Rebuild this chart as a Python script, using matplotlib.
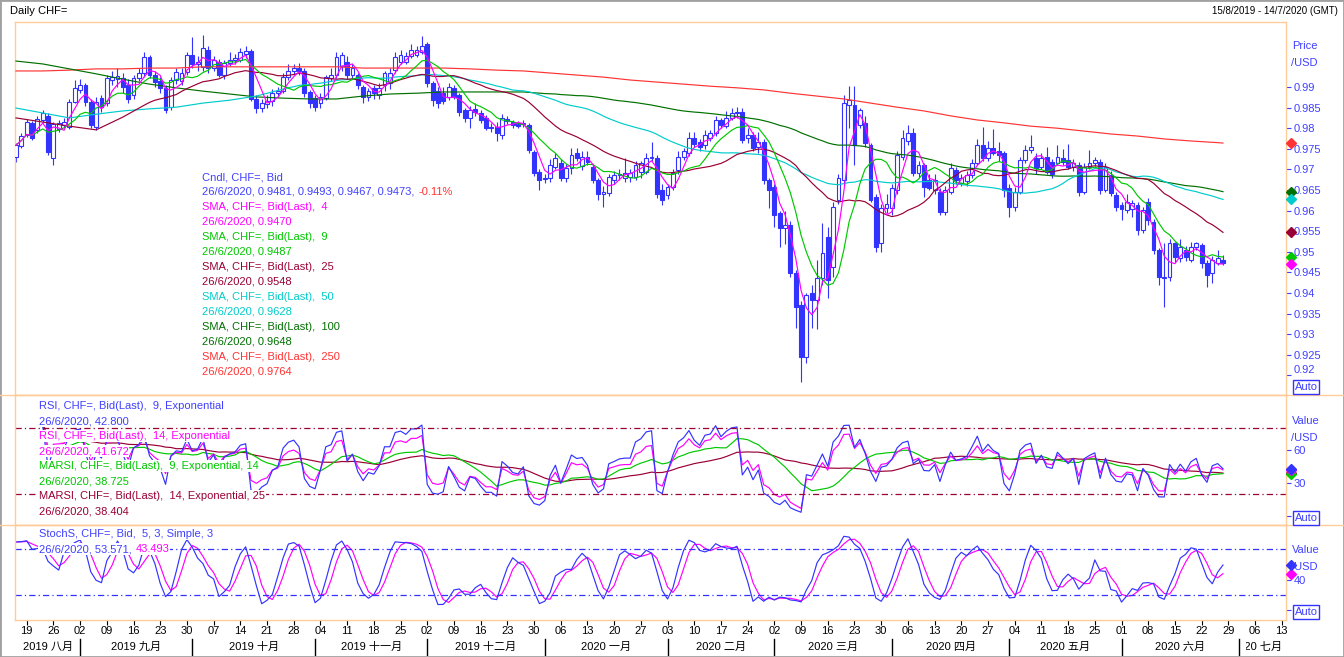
import numpy as np
import pandas as pd
import matplotlib
matplotlib.use("Agg")
import matplotlib.pyplot as plt
from matplotlib.lines import Line2D
from matplotlib.patches import Rectangle
from matplotlib.transforms import Bbox, TransformedBbox, blended_transform_factory

plt.rcParams['font.family'] = ['Liberation Sans', 'Noto Sans CJK SC', 'DejaVu Sans']
plt.rcParams['font.size'] = 8

# CHF= daily bid bars 15/8/2019 - 26/6/2020, in 1/10000, one row per week
opens = [
    9730, 9757,
    9784, 9813, 9796, 9820, 9830,
    9728, 9798, 9808, 9803, 9864,
    9893, 9905, 9864, 9803, 9873,
    9860, 9917, 9920, 9922, 9905,
    9880, 9922, 9934, 9973, 9930,
    9915, 9898, 9851, 9917, 9915,
    9936, 9978, 9955, 9948, 9990,
    9946, 9960, 9930, 9958, 9966,
    9965, 9980, 9988, 9870, 9850,
    9858, 9865, 9885, 9890, 9925,
    9938, 9945, 9938, 9888, 9873,
    9862, 9873, 9922, 9929, 9950,
    9961, 9929, 9929, 9900, 9876,
    9898, 9880, 9905, 9910, 9941,
    9961, 9961, 9975, 9978, 9985,
    10005, 9910, 9890, 9885, 9876,
    9898, 9881, 9844, 9825, 9846,
    9837, 9825, 9803, 9803, 9784,
    9822, 9815, 9813, 9810, 9808,
    9742, 9694, 9676, 9679, 9706,
    9716, 9679, 9703, 9740, 9708,
    9730, 9706, 9674, 9640, 9643,
    9674, 9686, 9679, 9682, 9682,
    9694, 9694, 9728, 9728, 9650,
    9638, 9657, 9699, 9730, 9740,
    9776, 9767, 9759, 9776, 9788,
    9820, 9805, 9825, 9837, 9839,
    9776, 9784, 9755, 9767, 9674,
    9657, 9594, 9558, 9565, 9449,
    9371, 9245, 9400, 9383, 9436,
    9536, 9463, 9626, 9674, 9856,
    9856, 9808, 9813, 9759, 9633,
    9521, 9606, 9606, 9650, 9730,
    9770, 9788, 9691, 9711, 9675,
    9650, 9645, 9597, 9645, 9699,
    9667, 9672, 9686, 9716, 9759,
    9728, 9752, 9745, 9740, 9655,
    9609, 9645, 9723, 9747, 9728,
    9706, 9730, 9718, 9716, 9728,
    9723, 9706, 9711, 9645, 9706,
    9716, 9718, 9650, 9686, 9638,
    9613, 9601, 9604, 9613, 9553,
    9621, 9572, 9504, 9436, 9439,
    9521, 9485, 9505, 9480, 9512,
    9517, 9473, 9449, 9473, 9481,
]
highs = [
    9764, 9788,
    9822, 9817, 9830, 9844, 9837,
    9815, 9820, 9825, 9870, 9917,
    9920, 9910, 9870, 9875, 9880,
    9930, 9940, 9945, 9935, 9920,
    9930, 9945, 9985, 9978, 9940,
    9925, 9905, 9925, 9945, 9945,
    9985, 10022, 9975, 10027, 10000,
    9975, 9968, 9965, 9985, 9980,
    9995, 10000, 9992, 9880, 9870,
    9880, 9895, 9900, 9935, 9955,
    9955, 9958, 9945, 9892, 9880,
    9885, 9930, 9945, 9985, 9985,
    9975, 9955, 9935, 9905, 9898,
    9905, 9910, 9940, 9945, 9985,
    9990, 9985, 10005, 10000, 10024,
    10010, 9915, 9900, 9900, 9910,
    9905, 9885, 9850, 9855, 9860,
    9845, 9832, 9812, 9815, 9835,
    9830, 9820, 9818, 9820, 9812,
    9748, 9700, 9690, 9725, 9740,
    9725, 9712, 9752, 9752, 9745,
    9745, 9712, 9680, 9660, 9690,
    9695, 9700, 9728, 9700, 9720,
    9720, 9740, 9767, 9735, 9665,
    9665, 9700, 9745, 9752, 9791,
    9790, 9775, 9795, 9796, 9830,
    9825, 9842, 9848, 9852, 9850,
    9800, 9790, 9790, 9775, 9680,
    9665, 9600, 9600, 9575, 9455,
    9380, 9400, 9420, 9480, 9570,
    9560, 9620, 9690, 9880, 9902,
    9902, 9850, 9830, 9765, 9640,
    9615, 9640, 9665, 9745, 9796,
    9808, 9800, 9720, 9715, 9690,
    9690, 9655, 9660, 9716, 9705,
    9690, 9695, 9725, 9775, 9803,
    9770, 9797, 9766, 9745, 9665,
    9657, 9730, 9760, 9784, 9740,
    9740, 9755, 9725, 9760, 9750,
    9762, 9725, 9718, 9715, 9747,
    9730, 9725, 9715, 9695, 9645,
    9620, 9640, 9625, 9620, 9610,
    9630, 9580, 9510, 9521, 9530,
    9525, 9530, 9515, 9525, 9525,
    9521, 9480, 9490, 9504, 9493,
]
lows = [
    9718, 9752,
    9779, 9771, 9788, 9813, 9735,
    9711, 9790, 9800, 9798, 9860,
    9885, 9855, 9800, 9795, 9840,
    9855, 9905, 9900, 9885, 9860,
    9870, 9915, 9925, 9922, 9900,
    9885, 9838, 9845, 9908, 9905,
    9930, 9945, 9940, 9940, 9935,
    9940, 9925, 9920, 9950, 9955,
    9960, 9970, 9865, 9837, 9840,
    9850, 9855, 9875, 9885, 9918,
    9930, 9930, 9875, 9850, 9842,
    9850, 9868, 9915, 9922, 9940,
    9920, 9920, 9895, 9862, 9865,
    9870, 9870, 9890, 9895, 9935,
    9955, 9955, 9970, 9972, 9980,
    9900, 9855, 9850, 9858, 9868,
    9870, 9830, 9815, 9800, 9830,
    9812, 9795, 9790, 9770, 9775,
    9810, 9800, 9800, 9802, 9740,
    9685, 9650, 9668, 9670, 9700,
    9672, 9670, 9690, 9720, 9698,
    9710, 9668, 9626, 9609, 9635,
    9665, 9675, 9670, 9670, 9675,
    9680, 9688, 9720, 9630, 9613,
    9628, 9650, 9690, 9722, 9732,
    9755, 9745, 9750, 9770, 9780,
    9800, 9800, 9820, 9825, 9765,
    9765, 9745, 9740, 9665, 9606,
    9560, 9512, 9520, 9440, 9315,
    9184, 9230, 9315, 9312, 9420,
    9388, 9440, 9615, 9660, 9800,
    9711, 9800, 9755, 9620, 9500,
    9500, 9595, 9590, 9640, 9722,
    9760, 9685, 9680, 9633, 9650,
    9640, 9590, 9590, 9640, 9665,
    9660, 9660, 9680, 9710, 9720,
    9720, 9735, 9720, 9633, 9584,
    9600, 9640, 9715, 9740, 9690,
    9700, 9688, 9680, 9710, 9710,
    9700, 9695, 9636, 9640, 9700,
    9708, 9640, 9645, 9635, 9600,
    9577, 9595, 9585, 9541, 9545,
    9565, 9495, 9420, 9366, 9430,
    9475, 9475, 9478, 9475, 9505,
    9460, 9415, 9425, 9468, 9467,
]
closes = [
    9759, 9781,
    9815, 9776, 9822, 9837, 9742,
    9810, 9813, 9815, 9864, 9898,
    9905, 9864, 9808, 9864, 9851,
    9922, 9924, 9927, 9900, 9870,
    9922, 9934, 9973, 9930, 9912,
    9898, 9844, 9917, 9936, 9934,
    9978, 9955, 9960, 9995, 9946,
    9965, 9930, 9958, 9966, 9970,
    9985, 9988, 9870, 9850, 9860,
    9865, 9885, 9890, 9925, 9940,
    9945, 9938, 9885, 9860, 9852,
    9876, 9924, 9930, 9972, 9978,
    9929, 9945, 9905, 9876, 9890,
    9886, 9898, 9934, 9934, 9973,
    9978, 9975, 9990, 9990, 10000,
    9910, 9868, 9862, 9865, 9900,
    9876, 9840, 9825, 9844, 9840,
    9820, 9800, 9800, 9788, 9825,
    9818, 9808, 9806, 9812, 9747,
    9691, 9674, 9679, 9711, 9728,
    9679, 9703, 9735, 9728, 9730,
    9718, 9674, 9640, 9645, 9682,
    9686, 9690, 9691, 9691, 9711,
    9716, 9728, 9730, 9640, 9626,
    9657, 9691, 9730, 9745, 9776,
    9762, 9755, 9784, 9788, 9820,
    9808, 9825, 9837, 9840, 9771,
    9784, 9752, 9767, 9674, 9650,
    9589, 9558, 9565, 9449, 9366,
    9245, 9395, 9383, 9436, 9497,
    9432, 9609, 9679, 9861, 9868,
    9759, 9844, 9764, 9626, 9512,
    9606, 9615, 9655, 9735, 9776,
    9788, 9691, 9711, 9657, 9655,
    9674, 9597, 9650, 9703, 9674,
    9679, 9686, 9716, 9759, 9728,
    9752, 9740, 9735, 9650, 9609,
    9645, 9723, 9747, 9755, 9703,
    9728, 9694, 9690, 9730, 9718,
    9706, 9716, 9645, 9706, 9716,
    9723, 9650, 9706, 9643, 9609,
    9604, 9621, 9618, 9553, 9601,
    9577, 9504, 9439, 9438, 9521,
    9487, 9512, 9487, 9512, 9521,
    9473, 9444, 9480, 9485, 9473,
]

# moving averages before enough bars exist, read every 5th bar off the chart
head_step = 5
sma25_head = [9825, 9815, 9805, 9796, 9827]
sma50_head = [9849, 9837, 9825, 9834, 9842, 9847, 9851, 9861, 9868, 9878]
sma100_head = [9963, 9956, 9944, 9932, 9919, 9907, 9898, 9890, 9883, 9876,
               9873, 9871, 9871, 9878, 9883, 9885, 9888, 9888, 9888, 9888]
# 250-day average, every 5th bar plus the last one
sma250_pts = [9939, 9939, 9941, 9944, 9944, 9946, 9946, 9949, 9949, 9949,
              9949, 9949, 9949, 9946, 9946, 9946, 9946, 9944, 9941, 9939,
              9934, 9929, 9924, 9917, 9912, 9907, 9902, 9898, 9893, 9885,
              9878, 9871, 9861, 9851, 9842, 9830, 9820, 9813, 9805, 9800,
              9793, 9786, 9781, 9774, 9769, 9765, 9764]

cn_months = ['一月', '二月', '三月', '四月', '五月', '六月',
             '七月', '八月', '九月', '十月', '十一月', '十二月']

price_legend = [
    ('Cndl, CHF=, Bid', 'blue'),
    ('26/6/2020, 0.9481, 0.9493, 0.9467, 0.9473,', 'blue'),
    ('SMA, CHF=, Bid(Last),  4', 'mag'),
    ('26/6/2020, 0.9470', 'mag'),
    ('SMA, CHF=, Bid(Last),  9', 'green'),
    ('26/6/2020, 0.9487', 'green'),
    ('SMA, CHF=, Bid(Last),  25', 'dred'),
    ('26/6/2020, 0.9548', 'dred'),
    ('SMA, CHF=, Bid(Last),  50', 'cyan'),
    ('26/6/2020, 0.9628', 'cyan'),
    ('SMA, CHF=, Bid(Last),  100', 'dgreen'),
    ('26/6/2020, 0.9648', 'dgreen'),
    ('SMA, CHF=, Bid(Last),  250', 'red'),
    ('26/6/2020, 0.9764', 'red'),
]
rsi_legend = [
    ('RSI, CHF=, Bid(Last),  9, Exponential', 'blue'),
    ('26/6/2020, 42.800', 'blue'),
    ('RSI, CHF=, Bid(Last),  14, Exponential', 'mag'),
    ('26/6/2020, 41.672', 'mag'),
    ('MARSI, CHF=, Bid(Last),  9, Exponential, 14', 'green'),
    ('26/6/2020, 38.725', 'green'),
    ('MARSI, CHF=, Bid(Last),  14, Exponential, 25', 'dred'),
    ('26/6/2020, 38.404', 'dred'),
]
stoch_legend = [
    ('StochS, CHF=, Bid,  5, 3, Simple, 3', 'blue'),
    ('26/6/2020, 53.571,', 'blue'),
]

col = {'blue': '#3333ff', 'mag': '#ff00ff', 'green': '#00c800', 'dred': '#990033',
       'cyan': '#00cccc', 'dgreen': '#007000', 'red': '#ff3333'}
txtblue = '#4040ff'
peach = '#ffcc99'

o = np.array(opens) / 1e4
h = np.array(highs) / 1e4
l = np.array(lows) / 1e4
c = np.array(closes) / 1e4
n = len(c)
idx = np.arange(n)
cs = pd.Series(c)

sma4 = cs.rolling(4, min_periods=1).mean()
sma9 = cs.rolling(9, min_periods=1).mean()


def joined(head, period):
    hx = np.arange(len(head)) * head_step
    full = cs.rolling(period).mean().values
    return np.r_[hx, np.arange(period - 1, n)], np.r_[np.array(head) / 1e4, full[period - 1:]]


x25, y25 = joined(sma25_head, 25)
x50, y50 = joined(sma50_head, 50)
x100, y100 = joined(sma100_head, 100)
x250 = np.r_[np.arange(0, n - 1, head_step), n - 1]
y250 = np.array(sma250_pts) / 1e4

# RSI / MARSI
d = cs.diff()


def rsi(period):
    g = d.clip(lower=0).ewm(span=period, adjust=False).mean()
    q = (-d.clip(upper=0)).ewm(span=period, adjust=False).mean()
    r = 100 - 100 / (1 + g / q)
    r[:5] = np.nan
    return r


rsi9 = rsi(9)
rsi14 = rsi(14)
marsi9 = rsi9.rolling(14, min_periods=1).mean()
marsi14 = rsi14.rolling(25, min_periods=1).mean()

# slow stochastic 5,3,3
hh = pd.Series(h).rolling(5, min_periods=1).max()
ll = pd.Series(l).rolling(5, min_periods=1).min()
fast_k = 100 * (cs - ll) / (hh - ll)
slow_k = fast_k.rolling(3, min_periods=1).mean()
slow_d = slow_k.rolling(3, min_periods=1).mean()

# axis calendar (weekdays up to 14/7/2020)
days = pd.bdate_range('2019-08-15', '2020-07-14')
mondays = np.where(days.dayofweek == 0)[0]
month_starts = np.r_[0, np.where(days.month[1:] != days.month[:-1])[0] + 1]

W, H = 1344, 657
fig = plt.figure(figsize=(W / 100, H / 100), dpi=100)
fig.patch.set_facecolor('white')


def fx(px):
    return px / W


def fy(py):
    return 1 - py / H


xlo, xhi = -0.19, 237.8
ax1 = fig.add_axes([fx(15), fy(395), fx(1271), 373 / H])
ax2 = fig.add_axes([fx(15), fy(525), fx(1271), 130 / H])
ax3 = fig.add_axes([fx(15), fy(620), fx(1271), 95 / H])
for ax in (ax1, ax2, ax3):
    ax.set_xlim(xlo, xhi)
    for s in ax.spines.values():
        s.set_color(peach)
        s.set_linewidth(1)
    ax.yaxis.tick_right()
    ax.tick_params(axis='y', colors=txtblue, length=3.6, width=0.8, pad=2, labelsize=8)
    ax.tick_params(axis='x', bottom=False, labelbottom=False)

# candles
blue = col['blue']
up = c >= o
ax1.vlines(idx, l, h, color=blue, lw=0.8, zorder=2)
ax1.bar(idx, np.maximum(np.abs(c - o), 0.00006), bottom=np.minimum(o, c), width=0.72,
        color=np.where(up, 'white', blue), edgecolor=blue, linewidth=0.8, zorder=3)
ax1.plot(x250, y250, color=col['red'], lw=0.85, zorder=4)
ax1.plot(x100, y100, color=col['dgreen'], lw=0.85, zorder=4)
ax1.plot(x50, y50, color=col['cyan'], lw=0.85, zorder=4)
ax1.plot(x25, y25, color=col['dred'], lw=0.85, zorder=4)
ax1.plot(idx, sma9, color=col['green'], lw=0.85, zorder=4)
ax1.plot(idx, sma4, color=col['mag'], lw=0.85, zorder=4)
ax1.set_ylim(0.91525, 1.00578)
pticks = np.round(np.arange(0.92, 0.9901, 0.005), 3)
ax1.set_yticks(pticks, [f'{v:g}' for v in pticks])
ax1.yaxis.get_major_ticks()[0].label2.set_va('bottom')

# RSI panel
ax2.plot(idx, marsi14, color=col['dred'], lw=0.85)
ax2.plot(idx, marsi9, color=col['green'], lw=0.85)
ax2.plot(idx, rsi14, color=col['mag'], lw=0.85)
ax2.plot(idx, rsi9, color=col['blue'], lw=0.85)
for lev in (80, 20):
    ax2.axhline(lev, color=col['dred'], lw=0.9, ls=(0, (5, 2.5, 1, 2.5)))
ax2.set_ylim(-8.2, 110)
ax2.set_yticks([0, 30, 60], ['', '30', '60'])

# stochastic panel
ax3.plot(idx, slow_d, color=col['mag'], lw=0.85)
ax3.plot(idx, slow_k, color=col['blue'], lw=0.85)
for lev in (80, 20):
    ax3.axhline(lev, color=col['blue'], lw=0.9, ls=(0, (5, 2.5, 1, 2.5)))
ax3.set_ylim(-12.6, 111.3)
ax3.set_yticks([0, 40], ['', '40'])

# date axis
ax3.tick_params(axis='x', bottom=True, labelbottom=True, length=3.6, width=0.8,
                pad=0.5, colors='black', labelsize=8)
ax3.set_xticks(mondays, [days[i].strftime('%d') for i in mondays])
tr = blended_transform_factory(ax3.transData, fig.transFigure)
bounds = list(month_starts) + [None]
for k, ms in enumerate(month_starts):
    a = max(xlo, ms)
    cut = bounds[k + 1] is None
    b = xhi if cut else min(xhi, bounds[k + 1])
    dt = days[ms]
    label = f'{dt.year} {cn_months[dt.month - 1]}'
    if cut:
        t = ax3.text(b - 0.8, fy(647), label, transform=tr, ha='right', va='center',
                     fontsize=8, color='black', clip_on=True)
        left = a + 1.3
    else:
        t = ax3.text((a + b) / 2, fy(647), label, transform=tr, ha='center', va='center',
                     fontsize=8, color='black', clip_on=True)
        left = a + 0.4
    t.set_clip_box(TransformedBbox(Bbox([[left, 0], [b, 1]]), tr))
    if k > 0:
        ax3.add_line(Line2D([ms, ms], [fy(639), fy(655)], transform=tr, color='black',
                            lw=1, clip_on=False))

# last-value diamonds on the right edge
for ax, vals in ((ax1, [(y250[-1], 'red'), (y100[-1], 'dgreen'), (y50[-1], 'cyan'),
                        (y25[-1], 'dred'), (sma9.iloc[-1], 'green'), (sma4.iloc[-1], 'mag')]),
                 (ax2, [(marsi14.iloc[-1], 'dred'), (marsi9.iloc[-1], 'green'),
                        (rsi14.iloc[-1], 'mag'), (rsi9.iloc[-1], 'blue')]),
                 (ax3, [(slow_d.iloc[-1], 'mag'), (slow_k.iloc[-1], 'blue')])):
    trd = blended_transform_factory(ax.transAxes, ax.transData)
    for v, cname in vals:
        ax.plot([1.0039], [v], 'D', ms=5, color=col[cname], transform=trd,
                clip_on=False, zorder=6)

# right axis captions and Auto boxes
for cap, y0 in (('Price', 46), ('Value', 421), ('Value', 550)):
    fig.text(fx(1292), fy(y0), cap, color=txtblue, va='center', fontsize=8)
    fig.text(fx(1291), fy(y0 + 17), '/USD', color=txtblue, va='center', fontsize=8)
for y0 in (387, 518, 612):
    fig.text(fx(1306), fy(y0), 'Auto', color=txtblue, ha='center', va='center', fontsize=8,
             bbox=dict(boxstyle='square,pad=0.15', fc='white', ec=blue, lw=1))

# legends
wbox = dict(boxstyle='square,pad=0.05', fc='white', ec='none')


def legend(lines, x0, y0):
    out = []
    for k, (txt, cname) in enumerate(lines):
        out.append(fig.text(fx(x0), fy(y0 + 15 * k), txt, color=col[cname] if cname != 'blue' else txtblue,
                            va='center', fontsize=8, bbox=wbox, zorder=5))
    return out


pl = legend(price_legend, 202, 177)
rl = legend(rsi_legend, 39, 406)
sl = legend(stoch_legend, 39, 534)
r = fig.canvas.get_renderer()
for base, extra, cname in ((pl[1], '-0.11%', 'red'), (sl[1], '43.493', 'mag')):
    bb = base.get_window_extent(r)
    fig.text((bb.x1 + 4) / W, base.get_position()[1], extra, color=col[cname],
             va='center', fontsize=8, bbox=wbox, zorder=5)

# titles, separators, frame
fig.text(fx(10), fy(11), 'Daily CHF=', va='center', fontsize=8, color='black')
fig.text(fx(1338), fy(11), '15/8/2019 - 14/7/2020 (GMT)', ha='right', va='center',
         fontsize=7, color='black')
for yy in (395, 525):
    fig.add_artist(Line2D([0, 1], [fy(yy), fy(yy)], transform=fig.transFigure, color=peach, lw=1))
fig.add_artist(Rectangle((0, 0), 1, 1, transform=fig.transFigure, fill=False,
                         edgecolor='#a0a0a0', lw=2))

fig.savefig('out.png', dpi=100)
